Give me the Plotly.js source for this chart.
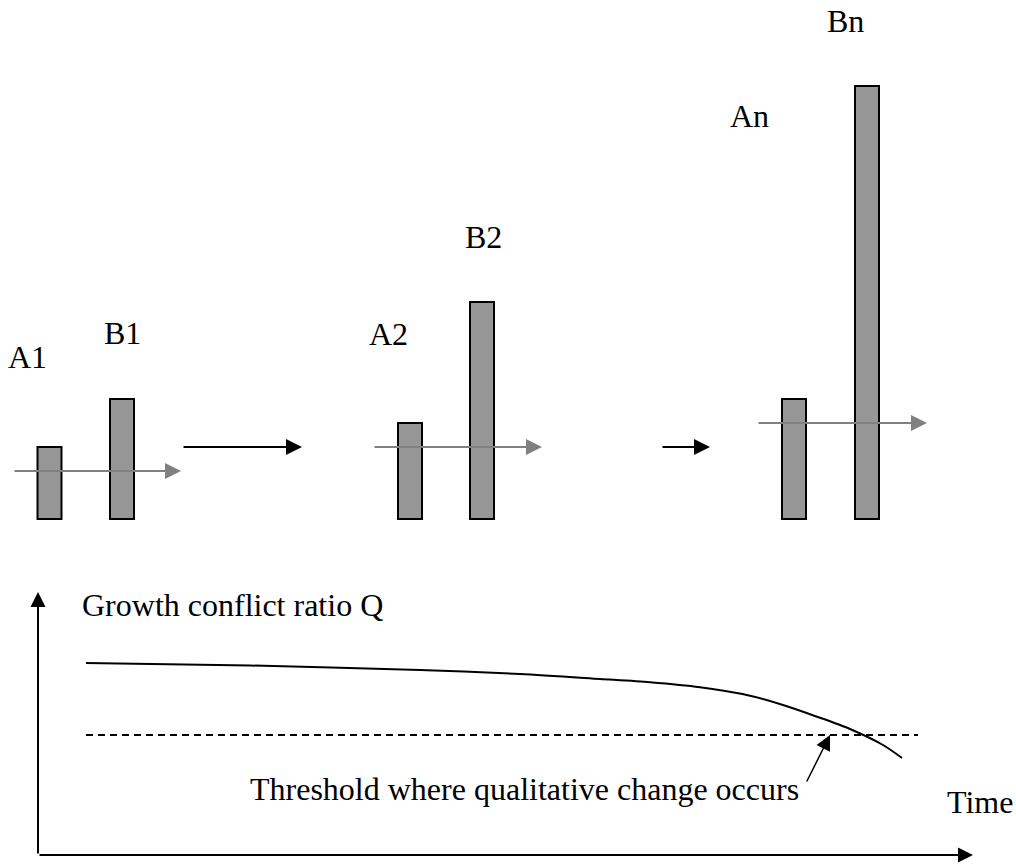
<!DOCTYPE html>
<html>
<head>
<meta charset="utf-8">
<script src="https://cdn.plot.ly/plotly-3.0.1.min.js"></script>
<style>html,body{margin:0;padding:0;background:#fff;}#chart{width:1016px;height:865px;}</style>
</head>
<body>
<div id="chart"></div>
<script>
// ---------- data ----------
const barLabels = ['A1', 'B1', 'A2', 'B2', 'An', 'Bn'];
const barHeights = [72, 120, 96, 217, 120, 433];
const timeVals = [4.8, 21.2, 38.2, 48.2, 56.2, 61.2, 66.2, 71.2, 74.5, 77.9, 81.2, 84.5, 86.4];
const qVals = [19.2, 18.95, 18.5, 18.1, 17.6, 17.27, 16.77, 15.93, 15.0, 13.83, 12.6, 11.0, 9.7];
const thresholdQ = 12.0;
const thresholdTime = [4.8, 88.0];
const yTitle = 'Growth conflict ratio Q';
const xTitle = 'Time';
const thresholdLabel = 'Threshold where qualitative change occurs';

// ---------- layout (pixel frame for the top diagram) ----------
const H = 865;
const Y = py => H - py;
const barCenters = [49.5, 122, 410, 482, 794, 867];
const barWidth = 24;
const barBasePx = 519;
const labelPos = [[27, 357], [122, 333], [388, 334], [483, 237], [749, 116], [845, 21]];
const grayArrows = [[13, 181, 471], [373, 542, 447], [757, 927, 423]];
const blackArrows = [[182, 302, 447], [661, 710, 447]];
const FONT = '"Liberation Serif", "Times New Roman", Times, serif';
const FS = 32;

const traces = [
  {
    type: 'bar', x: barCenters, y: barHeights, base: Y(barBasePx),
    width: barCenters.map(() => barWidth),
    marker: {color: '#969696', line: {color: '#000', width: 2}},
    xaxis: 'x', yaxis: 'y', hoverinfo: 'skip', showlegend: false
  },
  {
    type: 'scatter', mode: 'lines', x: thresholdTime, y: [thresholdQ, thresholdQ],
    line: {color: '#000', width: 2, dash: '7px,5px'},
    xaxis: 'x2', yaxis: 'y2', hoverinfo: 'skip', showlegend: false
  },
  {
    type: 'scatter', mode: 'lines', x: timeVals, y: qVals,
    line: {color: '#000', width: 2, shape: 'spline', smoothing: 0.8},
    xaxis: 'x2', yaxis: 'y2', hoverinfo: 'skip', showlegend: false
  }
];

const ann = [];
barLabels.forEach((t, i) => {
  ann.push({text: t, x: labelPos[i][0], y: Y(labelPos[i][1]), xref: 'x', yref: 'y',
    xanchor: 'center', yanchor: 'middle', showarrow: false,
    font: {family: FONT, size: FS, color: '#000'}});
});
function arrow(x0, x1, yPx, color) {
  return {x: x1, y: Y(yPx), ax: x0, ay: Y(yPx), xref: 'x', yref: 'y', axref: 'x', ayref: 'y',
    text: '', showarrow: true, arrowhead: 2, arrowsize: 1.6, arrowwidth: 2, arrowcolor: color};
}
grayArrows.forEach(a => ann.push(arrow(a[0], a[1], a[2], '#808080')));
blackArrows.forEach(a => ann.push(arrow(a[0], a[1], a[2], '#000')));

// axes of the lower plot (time / Q frame)
const axisArrow = (x0, y0, x1, y1, w, s) => ({x: x1, y: y1, ax: x0, ay: y0,
  xref: 'x2', yref: 'y2', axref: 'x2', ayref: 'y2', text: '', showarrow: true,
  arrowhead: 2, arrowsize: s, arrowwidth: w, arrowcolor: '#000'});
ann.push(axisArrow(0, 0, 0, 26.3, 2, 1.5));
ann.push(axisArrow(0, 0, 93.5, 0, 2, 1.5));
ann.push(axisArrow(76.8, 7.2, 79.2, 12.0, 1.5, 2));

// texts of the lower plot
ann.push({text: yTitle, x: 232, y: Y(605), xref: 'x', yref: 'y', xanchor: 'center', yanchor: 'middle',
  showarrow: false, font: {family: FONT, size: FS, color: '#000'}});
ann.push({text: thresholdLabel, x: 524.5, y: Y(789), xref: 'x', yref: 'y', xanchor: 'center', yanchor: 'middle',
  showarrow: false, font: {family: FONT, size: FS, color: '#000'}});
ann.push({text: xTitle, x: 980, y: Y(802), xref: 'x', yref: 'y', xanchor: 'center', yanchor: 'middle',
  showarrow: false, font: {family: FONT, size: FS, color: '#000'}});

const hidden = {visible: false, showgrid: false, zeroline: false, fixedrange: true};
const layout = {
  width: 1016, height: 865,
  margin: {l: 0, r: 0, t: 0, b: 0, pad: 0},
  paper_bgcolor: '#fff', plot_bgcolor: '#fff',
  showlegend: false, hovermode: false,
  xaxis: Object.assign({range: [0, 1016], domain: [0, 1]}, hidden),
  yaxis: Object.assign({range: [0, H], domain: [0, 1]}, hidden),
  xaxis2: Object.assign({range: [-3.8, 97.8], overlaying: 'x', anchor: 'y2'}, hidden),
  yaxis2: Object.assign({range: [-1, 85.5], overlaying: 'y', anchor: 'x2'}, hidden),
  annotations: ann
};
Plotly.newPlot('chart', traces, layout, {displayModeBar: false, staticPlot: true});
</script>
</body>
</html>
